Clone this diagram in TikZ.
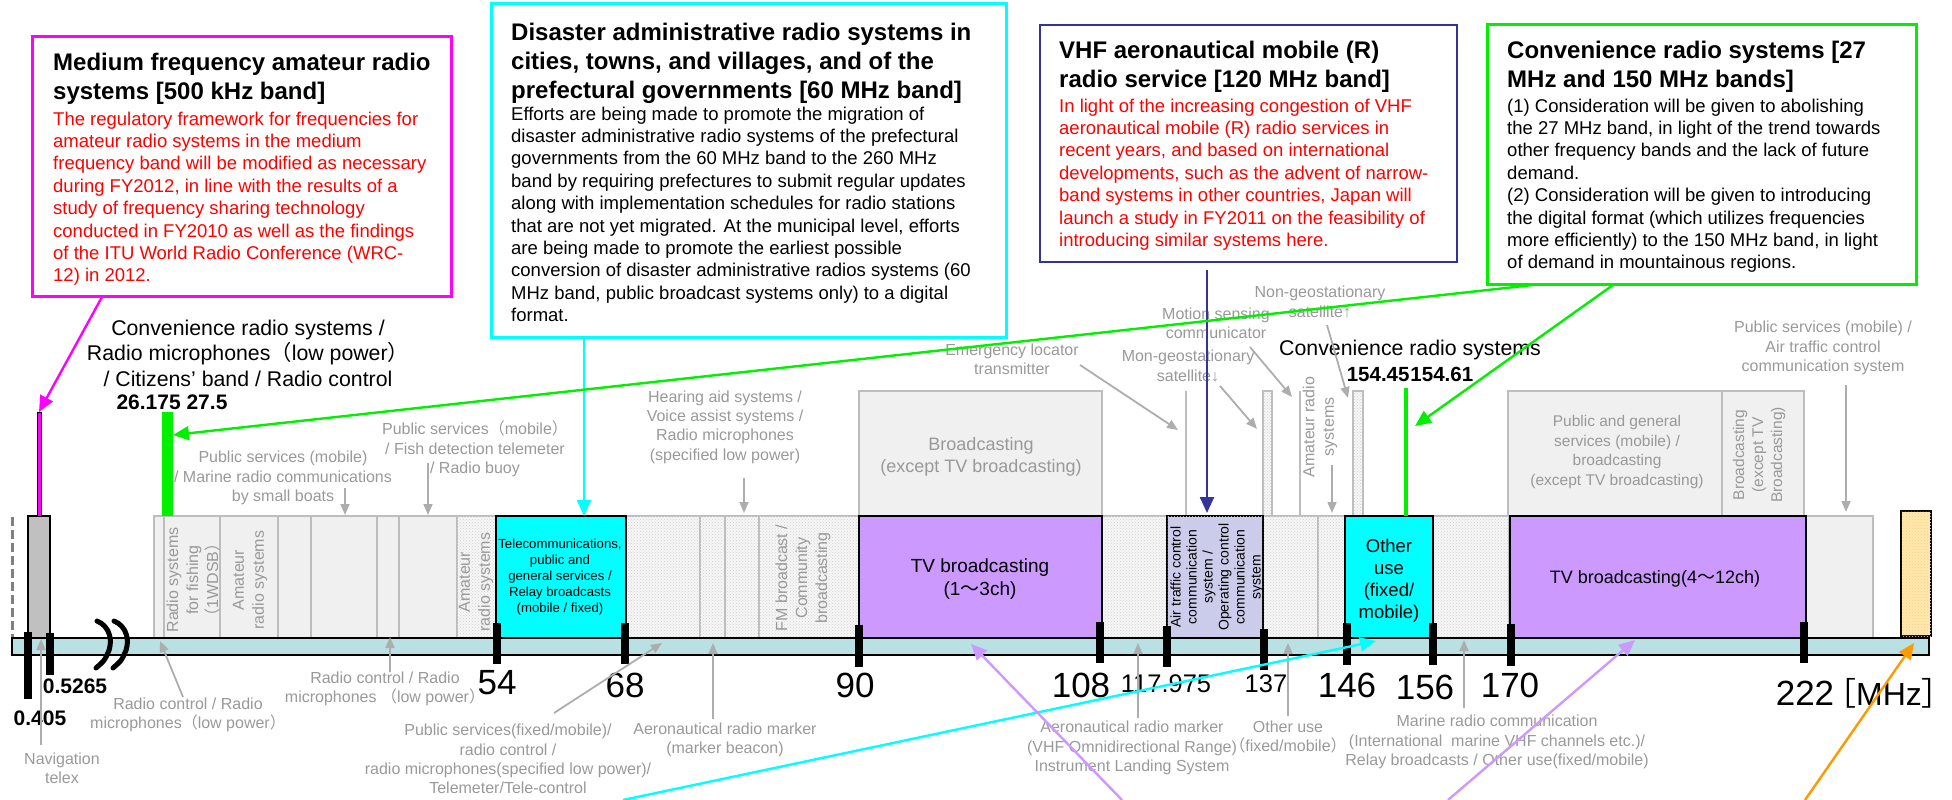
\documentclass[tikz,border=0pt]{standalone}
\usepackage{fontspec}
\setmainfont{Liberation Sans}
\newfontfamily\cjk{Noto Sans CJK JP}
\usetikzlibrary{arrows.meta,patterns}
\definecolor{labgray}{HTML}{999999}
\definecolor{linegray}{HTML}{ADADAD}
\definecolor{bandgray}{HTML}{F0F0F0}
\definecolor{bandedge}{HTML}{BDBDBD}
\definecolor{dotfill}{HTML}{F6F6F6}
\definecolor{axisblue}{HTML}{B9E0E2}
\definecolor{mycyan}{HTML}{00FFFF}
\definecolor{mymagenta}{HTML}{FF00FF}
\definecolor{mygreen}{HTML}{00F000}
\definecolor{mynavy}{HTML}{333399}
\definecolor{myred}{HTML}{FF0000}
\definecolor{mypurple}{HTML}{CC99FF}
\definecolor{myorange}{HTML}{FF9900}
\definecolor{mylav}{HTML}{CCCCF2}
\definecolor{myyellow}{HTML}{FFE9AA}
\definecolor{navgray}{HTML}{C0C0C0}
\newcommand{\fw}[1]{{\cjk #1}}
\tikzset{
  band/.style={draw=bandedge, line width=1.3pt, fill=bandgray},
  dotband/.style={draw=bandedge, line width=1.3pt, fill=dotfill, postaction={pattern=crosshatch dots, pattern color=gray!35}},
  keyband/.style={draw=black, line width=1.6pt},
  glabel/.style={text=labgray, font=\fontsize{16}{19.4}\selectfont, align=center, inner sep=0pt},
  glabelr/.style={glabel, rotate=90},
  garrow/.style={draw=linegray, line width=1.8pt, -{Triangle[length=11pt,width=9pt]}},
  bignum/.style={font=\fontsize{35}{40}\selectfont, inner sep=0pt},
  midnum/.style={font=\fontsize{25.5}{30}\selectfont, inner sep=0pt},
  boldnum/.style={font=\fontsize{21}{25}\selectfont\bfseries, inner sep=0pt},
  boxtitle/.style={font=\fontsize{24}{29.3}\selectfont\bfseries, align=left, anchor=north west, inner sep=0pt},
  boxbody/.style={font=\fontsize{18.5}{22.4}\selectfont, align=left, anchor=north west, inner sep=0pt},
  callout/.style={line width=2.4pt, -{Triangle[length=16pt,width=14pt]}},
  breakmark/.style={line width=5pt, line cap=round},
}
\begin{document}
\begin{tikzpicture}[x=1pt,y=-1pt]
\useasboundingbox (0,0) rectangle (1952,800);

% ---------------- upper row of bands ----------------
\draw[band] (859,391) rectangle (1102,516);
\node[glabel, font=\fontsize{18}{22}\selectfont] (bcast) at (981,457) {Broadcasting\\(except TV broadcasting)};
\draw[draw=bandedge, line width=1.8pt] (1186,391) -- (1186,516);
\draw[dotband] (1263,391) rectangle (1272,516);
\draw[draw=bandedge, line width=1.8pt] (1300,391) -- (1300,516);
\draw[dotband] (1353,391) rectangle (1363,516);
\draw[band] (1508,391) rectangle (1722,516);
\node[glabel, font=\fontsize{15.5}{19.5}\selectfont] (pgs) at (1617,452) {Public and general\\services (mobile) /\\broadcasting\\(except TV broadcasting)};
\draw[band] (1722,391) rectangle (1804,516);
\node[glabelr, font=\fontsize{15.5}{19}\selectfont] (bcast2) at (1759,455) {Broadcasting\\(except TV\\Broadcasting)};
\node[glabelr] (amat3) at (1320,427) {Amateur radio\\systems};

% ---------------- lower row of bands ----------------
\draw[band] (154,516) rectangle (164,638);
\draw[band] (164,516) rectangle (220,638);
\draw[band] (220,516) rectangle (278,638);
\draw[band] (278,516) rectangle (311,638);
\draw[band] (311,516) rectangle (377,638);
\draw[band] (377,516) rectangle (399,638);
\draw[band] (399,516) rectangle (457,638);
\draw[dotband] (457,516) rectangle (496,638);
\draw[dotband] (626,516) rectangle (700,638);
\draw[dotband] (700,516) rectangle (725,638);
\draw[dotband] (725,516) rectangle (759,638);
\draw[dotband] (759,516) rectangle (859,638);
\draw[dotband] (1102,516) rectangle (1167,638);
\draw[dotband] (1263,516) rectangle (1318,638);
\draw[dotband] (1318,516) rectangle (1345,638);
\draw[dotband] (1433,516) rectangle (1509,638);
\draw[band] (1806,516) rectangle (1873,638);

\node[glabelr, font=\fontsize{16}{20}\selectfont] (fish) at (193,580) {Radio systems\\for fishing\\\fw{（}1WDSB\fw{）}};
\node[glabelr, font=\fontsize{16}{20}\selectfont] (amat1) at (250,580) {Amateur\\radio systems};
\node[glabelr, font=\fontsize{16}{20}\selectfont] (amat2) at (476,582) {Amateur\\radio systems};
\node[glabelr, font=\fontsize{16}{20}\selectfont] (fm) at (803,578) {FM broadcast /\\Community\\broadcasting};

% key bands
\draw[keyband, fill=mycyan] (496,516) rectangle (626,638);
\node[font=\fontsize{13.2}{16}\selectfont, align=center, inner sep=0pt] (tele) at (560,577) {Telecommunications,\\public and\\general services /\\Relay broadcasts\\(mobile / fixed)};
\draw[keyband, fill=mypurple] (859,516) rectangle (1102,638);
\node[font=\fontsize{19}{23}\selectfont, align=center, inner sep=0pt] (tv1) at (980,579) {TV broadcasting\\(1\fw{～}3ch)};
\draw[keyband, fill=mylav, postaction={pattern=crosshatch dots, pattern color=gray!40}] (1167,516) rectangle (1263,638);
\node[font=\fontsize{14}{16}\selectfont, align=center, inner sep=0pt, rotate=90] (atc) at (1217,577) {Air traffic control\\communication\\system /\\Operating control\\communication\\system};
\draw[keyband, fill=mycyan] (1345,516) rectangle (1433,638);
\node[font=\fontsize{18.5}{22}\selectfont, align=center, inner sep=0pt] (other) at (1389,581) {Other\\use\\(fixed/\\mobile)};
\draw[keyband, fill=mypurple] (1510,516) rectangle (1806,638);
\node[font=\fontsize{18}{22}\selectfont, inner sep=0pt] (tv2) at (1655,579) {TV broadcasting(4\fw{～}12ch)};
\draw[keyband, fill=myyellow, postaction={pattern=crosshatch dots, pattern color=orange!40}] (1901,511) rectangle (1931,636);

% left items
\draw[draw=gray, line width=3pt, dash pattern=on 9pt off 4pt] (12,517) -- (12,645);
\draw[draw=black, line width=1.5pt, fill=navgray] (28,516) rectangle (50,638);
\draw[draw=black, line width=1pt, fill=mymagenta] (37,412) rectangle (41,516);
\draw[draw=none, fill=mygreen] (162,412) rectangle (173,516);
\draw[draw=mygreen, line width=4pt] (1406,388) -- (1406,516);

% ---------------- axis ----------------
\draw[draw=black, line width=1.5pt, fill=axisblue] (12,638) rectangle (1929,655);
\draw[breakmark] (97,621) .. controls (110,626) and (114,642) .. (107,655) .. controls (104,661) .. (96,668);
\draw[breakmark] (114,621) .. controls (127,626) and (131,642) .. (124,655) .. controls (121,661) .. (113,668);

% ticks
\foreach \tx/\ta/\tb in {28/632/699, 50/633/675, 497/623/664, 625/623/664, 859/625/667, 1100/622/663, 1167/626/667, 1264/629/670, 1347/623/665, 1433/623/665, 1511/624/666, 1804/622/663}
  \fill (\tx-3.8,\ta) rectangle (\tx+3.8,\tb);

% numbers
\node[boldnum] (n0405) at (40,718) {0.405};
\node[boldnum] (n05265) at (75,686) {0.5265};
\node[boldnum] (n26) at (172,402) {26.175 27.5};
\node[bignum] (n54) at (497,683) {54};
\node[bignum] (n68) at (625,685) {68};
\node[bignum] (n90) at (855,685) {90};
\node[bignum] (n108) at (1081,685) {108};
\node[midnum] (n117) at (1166,684) {117.975};
\node[midnum] (n137) at (1266,684) {137};
\node[bignum] (n146) at (1347,685) {146};
\node[bignum] (n156) at (1425,687) {156};
\node[bignum] (n170) at (1510,685) {170};
\node[bignum] (n222) at (1805,693) {222};
\node[inner sep=0pt, font=\fontsize{32}{36}\selectfont] (mhz) at (1889,693) {\kern-0.5em\fw{［}MHz\fw{］}\kern-0.5em};

% black labels
\node[font=\fontsize{21.3}{25.5}\selectfont, align=center, inner sep=0pt] (conv1) at (248,353) {Convenience radio systems /\\Radio microphones\fw{（}low power\fw{）}\\/ Citizens’ band / Radio control};
\node[font=\fontsize{21.3}{25}\selectfont, inner sep=0pt] (conv2) at (1410,350) {Convenience radio systems};
\node[font=\fontsize{20.5}{25}\selectfont\bfseries, inner sep=0pt] (n154) at (1410,374) {154.45\kern1pt154.61};

% ---------------- gray labels and their arrows ----------------
\node[glabel] (lmar) at (283,478) {Public services (mobile)\\/ Marine radio communications\\by small boats};
\coordinate (lmarA) at (345,488); \coordinate (lmarB) at (345,515);
\draw[garrow] (lmarA) -- (lmarB);
\node[glabel] (lfish) at (475,449) {Public services\fw{（}mobile\fw{）}\\/ Fish detection telemeter\\/ Radio buoy};
\coordinate (lfishA) at (428,463); \coordinate (lfishB) at (428,515);
\draw[garrow] (lfishA) -- (lfishB);
\node[glabel] (lhear) at (725,427) {Hearing aid systems /\\Voice assist systems /\\Radio microphones\\(specified low power)};
\coordinate (lhearA) at (744,478); \coordinate (lhearB) at (744,513);
\draw[garrow] (lhearA) -- (lhearB);
\node[glabel] (lelt) at (1012,359) {Emergency locator\\transmitter};
\coordinate (leltA) at (1080,365); \coordinate (leltB) at (1178,430);
\draw[garrow] (leltA) -- (leltB);
\node[glabel] (lmot) at (1216,323) {Motion sensing\\communicator};
\coordinate (lmotA) at (1250,347); \coordinate (lmotB) at (1292,397);
\draw[garrow] (lmotA) -- (lmotB);
\node[glabel] (lmon) at (1188,366) {Mon-geostationary\\satellite↓};
\coordinate (lmonA) at (1220,386); \coordinate (lmonB) at (1257,429);
\draw[garrow] (lmonA) -- (lmonB);
\node[glabel] (lnon) at (1320,302) {Non-geostationary\\satellite↑};
\coordinate (lnonA) at (1327,325); \coordinate (lnonB) at (1348,398);
\draw[garrow] (lnonA) -- (lnonB);
\coordinate (amatA) at (1332,465); \coordinate (amatB) at (1332,513);
\draw[garrow] (amatA) -- (amatB);
\node[glabel] (latc) at (1823,348) {Public services (mobile) /\\Air traffic control\\communication system};
\coordinate (latcA) at (1846,385); \coordinate (latcB) at (1846,512);
\draw[garrow] (latcA) -- (latcB);

\node[glabel] (lnav) at (62,768) {Navigation\\telex};
\coordinate (lnavA) at (41,745); \coordinate (lnavB) at (41,639);
\draw[garrow] (lnavA) -- (lnavB);
\node[glabel] (lrc1) at (188,715) {Radio control / Radio\\microphones\fw{（}low power\fw{）}};
\coordinate (lrc1A) at (183,697); \coordinate (lrc1B) at (160,641);
\draw[garrow] (lrc1A) -- (lrc1B);
\node[glabel] (lrc2) at (385,689) {Radio control / Radio\\microphones \fw{（}low power\fw{）}};
\coordinate (lrc2A) at (390,672); \coordinate (lrc2B) at (390,637);
\draw[garrow] (lrc2A) -- (lrc2B);
\node[glabel] (lpub) at (508,759) {Public services(fixed/mobile)/\\radio control /\\radio microphones(specified low power)/\\Telemeter/Tele-control};
\coordinate (lpubA) at (554,713); \coordinate (lpubB) at (662,643);
\draw[garrow] (lpubA) -- (lpubB);
\node[glabel] (lmb) at (725,740) {Aeronautical radio marker\\(marker beacon)};
\coordinate (lmbA) at (713,719); \coordinate (lmbB) at (713,643);
\draw[garrow] (lmbA) -- (lmbB);
\node[glabel] (lvor) at (1132,748) {Aeronautical radio marker\\(VHF Omnidirectional Range)\\Instrument Landing System};
\coordinate (lvorA) at (1138,718); \coordinate (lvorB) at (1138,643);
\draw[garrow] (lvorA) -- (lvorB);
\node[glabel] (loth) at (1288,737) {Other use\\\fw{（}fixed/mobile\fw{）}};
\coordinate (lothA) at (1288,716); \coordinate (lothB) at (1288,643);
\draw[garrow] (lothA) -- (lothB);
\node[glabel] (lmarine) at (1497,742) {Marine radio communication\\(International\ \ marine VHF channels etc.)/\\Relay broadcasts / Other use(fixed/mobile)};
\coordinate (lmarineA) at (1464,708); \coordinate (lmarineB) at (1464,640);
\draw[garrow] (lmarineA) -- (lmarineB);

% ---------------- info boxes ----------------
\draw[draw=mymagenta, line width=3pt, fill=white] (32,37) rectangle (451,296);
\node[boxtitle] (mft) at (53,52.5) {Medium frequency amateur radio\\systems [500 kHz band]};
\node[boxbody, text=myred] (mfb) at (53,111.5) {The regulatory framework for frequencies for\\amateur radio systems in the medium\\frequency band will be modified as necessary\\during FY2012, in line with the results of a\\study of frequency sharing technology\\conducted in FY2010 as well as the findings\\of the ITU World Radio Conference (WRC-\\12) in 2012.};

\draw[draw=mycyan, line width=3pt, fill=white] (491,4) rectangle (1006,337);
\node[boxtitle] (dat) at (511,22.5) {Disaster administrative radio systems in\\cities, towns, and villages, and of the\\prefectural governments [60 MHz band]};
\node[boxbody] (dab) at (511,106.5) {Efforts are being made to promote the migration of\\disaster administrative radio systems of the prefectural\\governments from the 60 MHz band to the 260 MHz\\band by requiring prefectures to submit regular updates\\along with implementation schedules for radio stations\\that are not yet migrated. At the municipal level, efforts\\are being made to promote the earliest possible\\conversion of disaster administrative radios systems (60\\MHz band, public broadcast systems only) to a digital\\format.};

\draw[draw=mynavy, line width=2.6pt, fill=white] (1040,25) rectangle (1457,262);
\node[boxtitle] (vht) at (1059,40.5) {VHF aeronautical mobile (R)\\radio service [120 MHz band]};
\node[boxbody, text=myred] (vhb) at (1059,98.5) {In light of the increasing congestion of VHF\\aeronautical mobile (R) radio services in\\recent years, and based on international\\developments, such as the advent of narrow-\\band systems in other countries, Japan will\\launch a study in FY2011 on the feasibility of\\introducing similar systems here.};

\draw[draw=mygreen, line width=3pt, fill=white] (1487,25) rectangle (1916,284);
\node[boxtitle] (cvt) at (1507,40.5) {Convenience radio systems [27\\MHz and 150 MHz bands]};
\node[boxbody] (cvb) at (1507,98.5) {(1) Consideration will be given to abolishing\\the 27 MHz band, in light of the trend towards\\other frequency bands and the lack of future\\demand.\\(2) Consideration will be given to introducing\\the digital format (which utilizes frequencies\\more efficiently) to the 150 MHz band, in light\\of demand in mountainous regions.};

% ---------------- callout connectors ----------------
\coordinate (mfA) at (102,297); \coordinate (mfB) at (39,412);
\draw[callout, draw=mymagenta, fill=mymagenta] (mfA) -- (mfB);
\coordinate (daA) at (584,338); \coordinate (daB) at (584,516);
\draw[callout, draw=mycyan, fill=mycyan] (daA) -- (daB);
\coordinate (vhA) at (1207,270); \coordinate (vhB) at (1207,513);
\draw[callout, draw=mynavy, fill=mynavy] (vhA) -- (vhB);
\coordinate (cvA) at (1533,285); \coordinate (cvB) at (173,435);
\draw[callout, draw=mygreen, fill=mygreen] (cvA) -- (cvB);
\coordinate (cvC) at (1613,285); \coordinate (cvD) at (1415,426);
\draw[callout, draw=mygreen, fill=mygreen] (cvC) -- (cvD);
\coordinate (cyA) at (623,800); \coordinate (cyB) at (1376,641);
\draw[callout, draw=mycyan, fill=mycyan] (cyA) -- (cyB);
\coordinate (pu1A) at (1122,800); \coordinate (pu1B) at (971,644);
\draw[callout, draw=mypurple, fill=mypurple] (pu1A) -- (pu1B);
\coordinate (pu2A) at (1448,800); \coordinate (pu2B) at (1635,640);
\draw[callout, draw=mypurple, fill=mypurple] (pu2A) -- (pu2B);
\coordinate (orA) at (1805,800); \coordinate (orB) at (1914,643);
\draw[callout, draw=myorange, fill=myorange] (orA) -- (orB);
\end{tikzpicture}
\end{document}
